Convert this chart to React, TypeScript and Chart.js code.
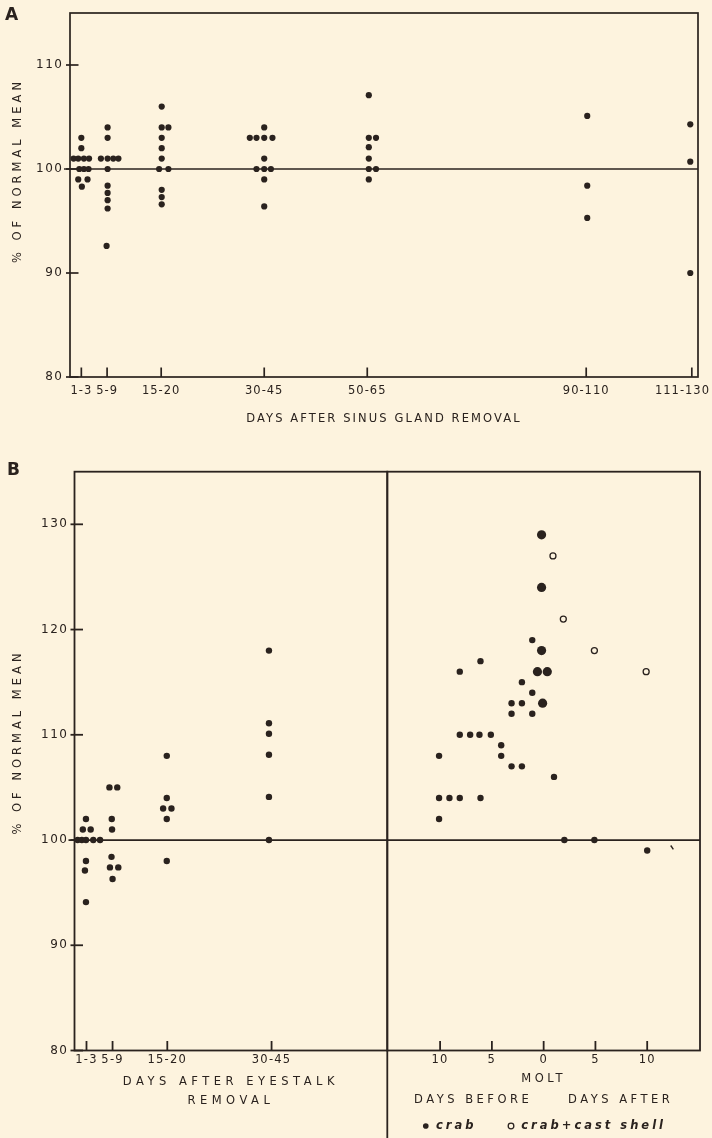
import { useEffect, useRef } from 'react';
import { Chart, registerables } from 'chart.js';

Chart.register(...registerables);

const INK = '#2a221e';
const PAPER = '#fdf3de';
const FONT = "'DejaVu Sans', 'Liberation Sans', sans-serif";
const NORMAL_MEAN = 100;

// ---------- Panel A: days after sinus gland removal ----------
const SINUS_TICKS = [2, 7, 17.5, 37.5, 57.5, 100, 120.5];
const SINUS_TICK_LABELS = ['1-3', '5-9', '15-20', '30-45', '50-65', '90-110', '111-130'];
const PCT_TICKS_A = [80, 90, 100, 110];
const SINUS_POINTS: number[][] = [
  [2, 103], [2, 102], [0.5, 101], [1.4, 101], [2.5, 101], [3.5, 101], [1.6, 100], [2.5, 100], [3.4, 100],
  [1.4, 99], [3.2, 99], [2.1, 98.3],
  [7.1, 104], [7.1, 103], [5.8, 101], [7.1, 101], [8.2, 101], [9.2, 101], [7.1, 100], [7.1, 98.4],
  [7.1, 97.7], [7.1, 97.0], [7.1, 96.2], [6.9, 92.6],
  [17.6, 106], [17.6, 104], [18.9, 104], [17.6, 103], [17.6, 102], [17.6, 101], [17.1, 100], [18.9, 100],
  [17.6, 98], [17.6, 97.3], [17.6, 96.6],
  [37.5, 104], [34.7, 103], [36, 103], [37.5, 103], [39.1, 103], [37.5, 101], [36, 100], [37.5, 100],
  [38.8, 100], [37.5, 99], [37.5, 96.4],
  [57.8, 107.1], [57.8, 103], [59.2, 103], [57.8, 102.1], [57.8, 101], [57.8, 100], [59.2, 100], [57.8, 99],
  [100.2, 105.1], [100.2, 98.4], [100.2, 95.3],
  [120.2, 104.3], [120.2, 100.7], [120.2, 90],
];

// ---------- Panel B left: days after eyestalk removal ----------
const EYESTALK_TICKS = [2, 7, 17.5, 37.5];
const EYESTALK_TICK_LABELS = ['1-3', '5-9', '15-20', '30-45'];
const PCT_TICKS_B = [80, 90, 100, 110, 120, 130];
const EYESTALK_POINTS: number[][] = [
  [1.9, 102], [1.3, 101], [2.8, 101], [0.3, 100], [1.1, 100], [1.9, 100], [3.3, 100], [4.6, 100],
  [1.9, 98], [1.7, 97.1], [1.9, 94.1],
  [6.4, 105], [7.9, 105], [6.85, 102], [6.9, 101], [6.8, 98.4], [6.5, 97.4], [8.1, 97.4], [7.0, 96.3],
  [17.4, 108], [17.4, 104], [16.7, 103], [18.3, 103], [17.4, 102], [17.4, 98],
  [37, 118], [37, 111.1], [37, 110.1], [37, 108.1], [37, 104.1], [37, 100],
];

// ---------- Panel B right: days before / after molt ----------
const MOLT_TICKS = [-10, -5, 0, 5, 10];
const MOLT_TICK_LABELS = ['10', '5', '0', '5', '10'];
const CRAB_POINTS: number[][] = [
  [-1.1, 119], [-6.1, 117], [-8.1, 116], [-2.1, 115], [-1.1, 114], [-3.1, 113], [-2.1, 113],
  [-3.1, 112], [-1.1, 112], [-8.1, 110], [-7.1, 110], [-6.2, 110], [-5.1, 110], [-4.1, 109],
  [-10.1, 108], [-4.1, 108], [-3.1, 107], [-2.1, 107], [1, 106], [-10.1, 104], [-9.1, 104],
  [-8.1, 104], [-6.1, 104], [-10.1, 102], [2, 100], [4.9, 100], [10, 99],
];
const CRAB_MOLT_DAY_POINTS: number[][] = [
  [-0.2, 129], [-0.2, 124], [-0.2, 118], [-0.6, 116], [0.35, 116], [-0.1, 113],
];
const CAST_SHELL_POINTS: number[][] = [[0.9, 127], [1.9, 121], [4.9, 118], [9.9, 116]];
const STRAY_MARK_POINTS: number[][] = [[12.4, 99.3]];
const LEGEND_ITEMS = ['crab', 'crab+cast shell'];

// legend box geometry (Chart.js legend height = font size + padding + 10)
const LEGEND_FONT = 11.5;
const LEGEND_PAD = 30;
const B_RIGHT_BOTTOM_PAD = -3.75;

const toXY = (pts: number[][]) => pts.map(([x, y]) => ({ x, y }));

// letter-spaced lettering for one scale; optionally keep its labels inside the canvas
function withSpacing(scale: any, labelSp: string, titleSp: string, keepInside = false) {
  if (scale.__spaced) return;
  scale.__spaced = true;
  const origLabels = scale.drawLabels;
  const origTitle = scale.drawTitle;
  scale.drawLabels = function (chartArea: any) {
    const c = this.ctx;
    const prev = c.letterSpacing;
    c.letterSpacing = labelSp;
    try {
      if (keepInside && typeof this.getLabelItems === 'function') {
        const items = this.getLabelItems(chartArea) || [];
        items.forEach((it: any) => {
          if (!it || !it.options || !it.options.translation || !it.font) return;
          c.save();
          c.font = it.font.string;
          const w = c.measureText(String(it.label)).width;
          c.restore();
          const maxX = this.chart.width - 2 - w / 2;
          if (it.options.translation[0] > maxX) it.options.translation[0] = maxX;
        });
      }
      origLabels.call(this, chartArea);
    } finally {
      c.letterSpacing = prev;
    }
  };
  scale.drawTitle = function (...args: any[]) {
    const c = this.ctx;
    const prev = c.letterSpacing;
    c.letterSpacing = titleSp;
    try {
      origTitle.apply(this, args);
    } finally {
      c.letterSpacing = prev;
    }
  };
}

function valueAxis(o: any) {
  return {
    type: 'linear',
    position: 'left',
    display: o.display !== false,
    min: o.min,
    max: o.max,
    afterBuildTicks: (s: any) => {
      s.ticks = o.ticks.map((v: number) => ({ value: v }));
    },
    afterFit: (s: any) => {
      s.width = o.width;
      s.paddingTop = 0;
      s.paddingBottom = 0;
      withSpacing(s, '1.5px', '0px');
    },
    grid: { display: false, drawTicks: false },
    border: { display: false },
    ticks: { color: INK, font: { family: FONT, size: 12 }, padding: o.pad },
  };
}

function dayAxis(o: any) {
  return {
    type: 'linear',
    position: 'bottom',
    min: o.min,
    max: o.max,
    afterBuildTicks: (s: any) => {
      s.ticks = o.ticks.map((v: number) => ({ value: v }));
    },
    afterFit: (s: any) => {
      s.height = o.height(s);
      s.paddingLeft = 0;
      s.paddingRight = 0;
      withSpacing(s, o.labelSp, o.titleSp, !!o.keepInside);
    },
    grid: { display: false, drawTicks: false },
    border: { display: false },
    ticks: {
      autoSkip: false,
      maxRotation: 0,
      minRotation: 0,
      padding: o.pad,
      color: INK,
      font: { family: FONT, size: 11.5 },
      callback: (_v: any, i: number) => o.labels[i],
    },
    title: {
      display: true,
      text: o.title,
      color: INK,
      font: { family: FONT, size: 11.5, lineHeight: o.lineHeight },
      padding: { top: 0, bottom: o.titlePad },
    },
  };
}

const spacingPlugin = {
  id: 'spacing',
  beforeUpdate(chart: any, _a: any, opts: any) {
    chart.ctx.letterSpacing = opts.base || '0px';
  },
  beforeDraw(chart: any, _a: any, opts: any) {
    chart.ctx.letterSpacing = opts.base || '0px';
  },
};

const framePlugin = {
  id: 'frame',
  beforeDatasetsDraw(chart: any, _a: any, o: any) {
    const { ctx, chartArea: a, scales } = chart;
    const seg = (x1: number, y1: number, x2: number, y2: number) => {
      ctx.beginPath();
      ctx.moveTo(x1, y1);
      ctx.lineTo(x2, y2);
      ctx.stroke();
    };
    ctx.save();
    ctx.strokeStyle = INK;
    ctx.lineWidth = o.lineWidth;
    ctx.strokeRect(a.left, a.top, a.right - a.left, a.bottom - a.top);
    const ys = scales.y;
    if (o.yTicks) {
      ys.ticks.forEach((t: any) => {
        const p = ys.getPixelForValue(t.value);
        seg(a.left - 4, p, a.left + 8.5, p);
      });
    }
    const xs = scales.x;
    xs.ticks.forEach((t: any) => {
      const p = xs.getPixelForValue(t.value);
      seg(p, a.bottom, p, a.bottom - 9.5);
    });
    const yp = ys.getPixelForValue(NORMAL_MEAN);
    seg(a.left - o.normalLead, yp, a.right, yp);
    if (o.dropLine) seg(a.left, a.bottom, a.left, chart.height);
    ctx.fillStyle = INK;
    if (o.yTitle) {
      ctx.save();
      ctx.translate(o.yTitle.x, o.yTitle.y);
      ctx.rotate(-Math.PI / 2);
      ctx.font = `11.5px ${FONT}`;
      ctx.letterSpacing = '4px';
      ctx.textAlign = 'center';
      ctx.textBaseline = 'middle';
      ctx.fillText(o.yTitle.text, 0, 0);
      ctx.restore();
    }
    if (o.panel) {
      ctx.font = `bold 17px ${FONT}`;
      ctx.letterSpacing = '0px';
      ctx.textAlign = 'left';
      ctx.textBaseline = 'alphabetic';
      ctx.fillText(o.panel.text, o.panel.x, o.panel.y);
    }
    ctx.restore();
  },
};

const dots = (label: string, pts: number[][], r: number) => ({
  label,
  data: toXY(pts),
  pointRadius: r,
  pointHoverRadius: r,
  pointBackgroundColor: INK,
  backgroundColor: INK,
  pointBorderColor: INK,
  borderColor: INK,
  pointBorderWidth: 0,
  borderWidth: 0,
});

function configA(): any {
  return {
    type: 'scatter',
    data: { datasets: [dots('sinus gland removed', SINUS_POINTS, 3.1)] },
    options: {
      responsive: false,
      animation: false,
      events: [],
      layout: { padding: { left: 0, right: 14, top: 13, bottom: 0 } },
      scales: {
        x: dayAxis({
          min: -0.2, max: 121.7, ticks: SINUS_TICKS, labels: SINUS_TICK_LABELS,
          height: () => 63, pad: 6.8, labelSp: '1px', titleSp: '2.1px', keepInside: true,
          title: 'DAYS AFTER SINUS GLAND REMOVAL', lineHeight: '14px', titlePad: 14,
        }),
        y: valueAxis({ min: 80, max: 115, ticks: PCT_TICKS_A, width: 70, pad: 6.5 }),
      },
      plugins: {
        legend: { display: false },
        tooltip: { enabled: false },
        spacing: { base: '0px' },
        frame: {
          lineWidth: 1.7, yTicks: true, normalLead: 6,
          yTitle: { text: '% OF NORMAL MEAN', x: 18, y: 170.5 },
          panel: { text: 'A', x: 5, y: 20 },
        },
      },
    },
    plugins: [spacingPlugin, framePlugin],
  };
}

function configBLeft(): any {
  return {
    type: 'scatter',
    data: { datasets: [dots('eyestalk removed', EYESTALK_POINTS, 3.2)] },
    options: {
      responsive: false,
      animation: false,
      events: [],
      layout: { padding: { left: 0, right: 324.7, top: 31.7, bottom: 0 } },
      scales: {
        x: dayAxis({
          min: -0.3, max: 59.7, ticks: EYESTALK_TICKS, labels: EYESTALK_TICK_LABELS,
          height: () => 87.5, pad: 2.6, labelSp: '1.2px', titleSp: '4.5px',
          title: ['DAYS AFTER EYESTALK', 'REMOVAL'], lineHeight: '19px', titlePad: 27.8,
        }),
        y: valueAxis({ min: 80, max: 135, ticks: PCT_TICKS_B, width: 74.5, pad: 6 }),
      },
      plugins: {
        legend: { display: false },
        tooltip: { enabled: false },
        spacing: { base: '0px' },
        frame: {
          lineWidth: 1.8, yTicks: true, normalLead: 6,
          yTitle: { text: '% OF NORMAL MEAN', x: 18, y: 302 },
          panel: { text: 'B', x: 7, y: 35 },
        },
      },
    },
    plugins: [spacingPlugin, framePlugin],
  };
}

function legendHeight(chart: any) {
  return chart.legend && chart.legend.height ? chart.legend.height : LEGEND_FONT + LEGEND_PAD + 10;
}

function configBRight(): any {
  return {
    type: 'scatter',
    data: {
      datasets: [
        dots('crab', CRAB_POINTS, 3.2),
        dots('crab, day of molt', CRAB_MOLT_DAY_POINTS, 4.6),
        {
          label: 'crab+cast shell',
          data: toXY(CAST_SHELL_POINTS),
          pointRadius: 3,
          pointHoverRadius: 3,
          pointBackgroundColor: PAPER,
          backgroundColor: PAPER,
          pointBorderColor: INK,
          borderColor: INK,
          pointBorderWidth: 1.3,
          borderWidth: 1.3,
        },
        {
          label: 'stray mark',
          data: toXY(STRAY_MARK_POINTS),
          pointStyle: 'line',
          pointRotation: 55,
          pointRadius: 2.3,
          pointHoverRadius: 2.3,
          pointBorderColor: INK,
          borderColor: INK,
          pointBorderWidth: 1.4,
          borderWidth: 1.4,
        },
      ],
    },
    options: {
      responsive: false,
      animation: false,
      events: [],
      layout: { padding: { left: 387.3, right: 12, top: 31.7, bottom: B_RIGHT_BOTTOM_PAD } },
      scales: {
        x: dayAxis({
          min: -15.1, max: 15.1, ticks: MOLT_TICKS, labels: MOLT_TICK_LABELS,
          height: (s: any) => 87.5 - B_RIGHT_BOTTOM_PAD - legendHeight(s.chart),
          pad: 2.6, labelSp: '1.2px', titleSp: '3.5px',
          title: ['MOLT', 'DAYS BEFORE     DAYS AFTER'], lineHeight: '21px', titlePad: -20.25,
        }),
        y: { type: 'linear', display: false, min: 80, max: 135 },
      },
      plugins: {
        legend: {
          display: true,
          position: 'bottom',
          fullSize: false,
          align: 'center',
          labels: {
            usePointStyle: true,
            boxWidth: 9,
            boxHeight: 4,
            padding: LEGEND_PAD,
            color: INK,
            font: { family: FONT, size: LEGEND_FONT, style: 'italic', weight: 'bold' },
            filter: (item: any) => LEGEND_ITEMS.includes(item.text),
          },
        },
        tooltip: { enabled: false },
        spacing: { base: '3px' },
        frame: { lineWidth: 1.8, yTicks: false, normalLead: 0, dropLine: true },
      },
    },
    plugins: [spacingPlugin, framePlugin],
  };
}

export default function App() {
  const aRef = useRef<HTMLCanvasElement>(null);
  const blRef = useRef<HTMLCanvasElement>(null);
  const brRef = useRef<HTMLCanvasElement>(null);

  useEffect(() => {
    const charts = [
      new Chart(aRef.current as HTMLCanvasElement, configA()),
      new Chart(blRef.current as HTMLCanvasElement, configBLeft()),
      new Chart(brRef.current as HTMLCanvasElement, configBRight()),
    ];
    charts.forEach((c) => c.update());
    return () => charts.forEach((c) => c.destroy());
  }, []);

  return (
    <div
      style={{
        position: 'absolute',
        left: 0,
        top: 0,
        width: 712,
        height: 1138,
        background: PAPER,
        overflow: 'hidden',
      }}
    >
      <canvas ref={aRef} width={712} height={440} style={{ position: 'absolute', left: 0, top: 0, width: 712, height: 440 }} />
      <canvas ref={blRef} width={712} height={698} style={{ position: 'absolute', left: 0, top: 440, width: 712, height: 698 }} />
      <canvas ref={brRef} width={712} height={698} style={{ position: 'absolute', left: 0, top: 440, width: 712, height: 698 }} />
    </div>
  );
}
